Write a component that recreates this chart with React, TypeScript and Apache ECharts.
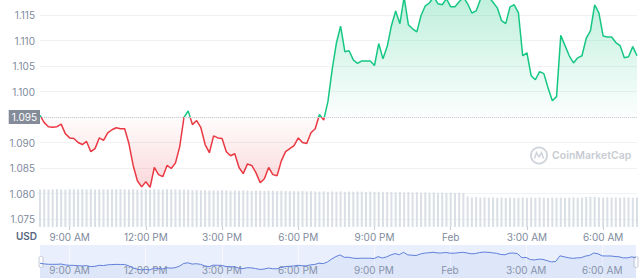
import React, { useEffect, useRef } from 'react';
import * as echarts from 'echarts';

// price every 10 minutes, from 7:50 AM (Jan 31) to 7:20 AM (Feb 1)
const prices = [
  1.0953, 1.0939, 1.0931, 1.0930, 1.0931, 1.0936, 1.0917, 1.0909, 1.0908, 1.0900,
  1.0896, 1.0902, 1.0882, 1.0888, 1.0909, 1.0904, 1.0919, 1.0925, 1.0929, 1.0927,
  1.0927, 1.0898, 1.0855, 1.0825, 1.0813, 1.0823, 1.0812, 1.0851, 1.0837, 1.0833,
  1.0855, 1.0849, 1.0860, 1.0892, 1.0949, 1.0962, 1.0935, 1.0943, 1.0929, 1.0896,
  1.0880, 1.0913, 1.0909, 1.0908, 1.0882, 1.0874, 1.0878, 1.0851, 1.0839, 1.0858,
  1.0855, 1.0841, 1.0821, 1.0829, 1.0851, 1.0837, 1.0835, 1.0864, 1.0882, 1.0888,
  1.0894, 1.0909, 1.0900, 1.0898, 1.0919, 1.0927, 1.0955, 1.0944, 1.0980, 1.1043,
  1.1095, 1.1128, 1.1078, 1.1080, 1.1062, 1.1055, 1.1060, 1.1060, 1.1060, 1.1051,
  1.1094, 1.1064, 1.1088, 1.1129, 1.1158, 1.1133, 1.1185, 1.1131, 1.1123, 1.1117,
  1.1149, 1.1168, 1.1174, 1.1186, 1.1172, 1.1170, 1.1182, 1.1166, 1.1166, 1.1176,
  1.1185, 1.1172, 1.1154, 1.1158, 1.1180, 1.1190, 1.1185, 1.1175, 1.1164, 1.1139,
  1.1133, 1.1166, 1.1170, 1.1154, 1.1070, 1.1076, 1.1031, 1.1023, 1.1039, 1.1035,
  1.1007, 1.0982, 1.0990, 1.1110, 1.1090, 1.1070, 1.1056, 1.1066, 1.1070, 1.1104,
  1.1119, 1.1170, 1.1154, 1.1109, 1.1107, 1.1107, 1.1096, 1.1090, 1.1066, 1.1068,
  1.1088, 1.1070,
];

const volumes = [
  37.6, 37.8, 37.5, 37.7, 37.9, 37.6, 37.4, 37.8, 37.7, 37.5,
  37.9, 37.6, 37.8, 37.4, 37.7, 37.6, 37.5, 37.8, 37.7, 37.9,
  37.6, 37.5, 37.8, 37.4, 37.6, 37.7, 37.5, 37.8, 37.6, 37.4,
  37.7, 37.5, 37.6, 37.3, 37.5, 37.2,
  36.8, 37.0, 36.6, 36.9, 36.5, 36.7, 36.4, 36.8, 36.6, 36.3,
  36.5, 36.2, 36.6, 36.4, 36.1, 36.5, 36.3, 36.0, 36.4, 36.2,
  35.9, 36.3, 36.1, 35.8, 36.0, 35.7, 35.9, 35.6, 35.8, 35.5,
  35.4, 35.6, 35.2, 35.5, 35.3, 35.6, 35.1, 35.4, 35.2, 35.5,
  35.3, 35.0, 35.4, 35.1, 35.3, 34.9, 35.2, 35.0, 34.8, 35.1,
  34.7, 34.9, 34.6, 34.8, 34.5, 34.7, 34.4, 34.6, 34.3, 34.5,
  34.2, 34.4, 34.1, 34.3, 34.0,
  30.5, 29.6, 29.9, 29.4, 29.7, 29.3, 29.6, 29.2, 29.5, 29.1,
  29.4, 29.0, 29.3, 29.5, 29.1, 29.4, 29.2, 29.6, 29.3, 29.0,
  29.4, 29.2, 29.5, 29.1, 29.3, 29.6, 29.2, 29.4, 30.0, 30.3,
  30.1, 29.6, 29.4, 29.7, 29.3, 29.5, 29.2, 29.6, 29.4, 29.3,
  29.5,
];

const tickTimes = ['09:00', '12:00', '15:00', '18:00', '21:00', '00:00', '03:00', '06:00'];
const tickLabels = ['9:00 AM', '12:00 PM', '3:00 PM', '6:00 PM', '9:00 PM', 'Feb', '3:00 AM', '6:00 AM'];

const baseline = 1.095;
const startMinutes = 7 * 60 + 50;
const stepMinutes = 10;

const times = prices.map((_, i) => {
  const t = startMinutes + i * stepMinutes;
  const h = Math.floor(t / 60) % 24;
  const m = t % 60;
  return String(h).padStart(2, '0') + ':' + String(m).padStart(2, '0');
});

export default function App() {
  const ref = useRef<HTMLDivElement>(null);

  useEffect(() => {
    document.body.style.margin = '0';
    if (!ref.current) return;
    const chart = echarts.init(ref.current, null, { renderer: 'svg' });

    const maxV = Math.max(...prices);
    const minV = Math.min(...prices);
    const b = (maxV - baseline) / (maxV - minV);

    const isTick = (_i: number, v: string) => tickTimes.includes(v);
    const fmt = (v: string) => {
      const k = tickTimes.indexOf(v);
      return k >= 0 ? tickLabels[k] : '';
    };
    const font = 'Inter, "Noto Sans", sans-serif';

    chart.setOption({
      animation: false,
      textStyle: { fontFamily: font },
      grid: [
        { left: 40, right: 3, top: 15, bottom: 61 },
        { left: 40, right: 3, top: 189, bottom: 53 },
        { left: 40, right: 4, top: 245, bottom: 2, show: true, backgroundColor: '#e9effc', borderWidth: 0 },
      ],
      xAxis: [
        { type: 'category', gridIndex: 0, data: times, boundaryGap: false, show: false },
        {
          type: 'category', gridIndex: 1, data: times, boundaryGap: false,
          axisLine: { show: false },
          axisTick: { show: true, interval: isTick, length: 3, lineStyle: { color: '#c5cad3' } },
          axisLabel: { interval: isTick, formatter: fmt, color: '#808a9d', fontSize: 10, margin: 5, fontFamily: font },
          splitLine: { show: false },
        },
        {
          type: 'category', gridIndex: 2, data: times, boundaryGap: false,
          axisLine: { show: false },
          axisTick: { show: false },
          axisLabel: { inside: true, interval: isTick, formatter: fmt, color: '#8a94a8', fontSize: 10, margin: 3, fontFamily: font },
          splitLine: { show: true, interval: isTick, lineStyle: { color: '#f6f8fe', width: 1 } },
        },
      ],
      yAxis: [
        {
          type: 'value', gridIndex: 0, min: 1.075, max: 1.115, interval: 0.005,
          axisLine: { show: false }, axisTick: { show: false },
          axisLabel: {
            color: '#808a9d', fontSize: 10, margin: 5, fontFamily: font,
            formatter: (v: number) => (Math.abs(v - baseline) < 1e-7 ? '' : v.toFixed(3)),
          },
          splitLine: { lineStyle: { color: '#f0f2f5', width: 1 } },
        },
        { type: 'value', gridIndex: 1, min: 0, max: 38, show: false, splitLine: { show: false } },
        { type: 'value', gridIndex: 2, min: 1.064, max: 1.134, show: false, splitLine: { show: false } },
      ],
      visualMap: {
        type: 'piecewise', show: false, seriesIndex: 1, dimension: 1,
        pieces: [
          { gt: 0, lte: baseline, color: '#ea3943' },
          { gt: baseline, lte: 2, color: '#16c784' },
        ],
        outOfRange: { color: '#16c784' },
      },
      series: [
        {
          type: 'bar', xAxisIndex: 1, yAxisIndex: 1, data: volumes,
          barWidth: 2, itemStyle: { color: '#dadee5' }, silent: true, z: 1,
        },
        {
          type: 'line', xAxisIndex: 0, yAxisIndex: 0, data: prices,
          showSymbol: false, clip: false, z: 3,
          lineStyle: { width: 1.5 },
          areaStyle: {
            origin: baseline,
            color: new echarts.graphic.LinearGradient(0, 0, 0, 1, [
              { offset: 0, color: 'rgba(22,199,132,0.4)' },
              { offset: b, color: 'rgba(22,199,132,0.02)' },
              { offset: b, color: 'rgba(234,57,67,0.02)' },
              { offset: 1, color: 'rgba(234,57,67,0.28)' },
            ]),
          },
          markLine: {
            silent: true, symbol: 'none', precision: 4,
            data: [{ yAxis: baseline }],
            lineStyle: { type: 'dotted', color: '#c9cfd9', width: 1 },
            label: {
              position: 'start', distance: 0, formatter: baseline.toFixed(3),
              backgroundColor: '#858c99', color: '#ffffff', padding: [2, 3],
              fontSize: 10, fontFamily: font,
            },
          },
        },
        {
          type: 'line', xAxisIndex: 2, yAxisIndex: 2, data: prices,
          showSymbol: false, silent: true,
          lineStyle: { width: 1, color: '#5f7fd9' },
          areaStyle: { origin: 'start', color: 'rgba(90,125,215,0.10)' },
        },
      ],
      graphic: [
        { type: 'text', left: 16, top: 231, style: { text: 'USD', fontSize: 10, fontWeight: 600, fill: '#58667e', fontFamily: font } },
        { type: 'circle', shape: { cx: 539, cy: 155.5, r: 8 }, style: { fill: 'none', stroke: '#cfd3da', lineWidth: 1.8 } },
        { type: 'polyline', shape: { points: [[534.5, 158.5], [536.5, 152.5], [539, 157], [541.5, 152.5], [543.5, 158.5]] }, style: { fill: 'none', stroke: '#cfd3da', lineWidth: 1.5 } },
        { type: 'text', x: 552, y: 155.5, style: { text: 'CoinMarketCap', fontSize: 10.5, fontWeight: 600, fill: '#c8ccd3', verticalAlign: 'middle', fontFamily: font } },
        { type: 'rect', shape: { x: 39, y: 256.5, width: 4, height: 11, r: 1.5 }, style: { fill: '#ffffff', stroke: '#c4cad5', lineWidth: 1 } },
        { type: 'rect', shape: { x: 634, y: 256.5, width: 4, height: 11, r: 1.5 }, style: { fill: '#ffffff', stroke: '#c4cad5', lineWidth: 1 } },
      ],
    });

    return () => chart.dispose();
  }, []);

  return <div ref={ref} style={{ width: 640, height: 280 }} />;
}
